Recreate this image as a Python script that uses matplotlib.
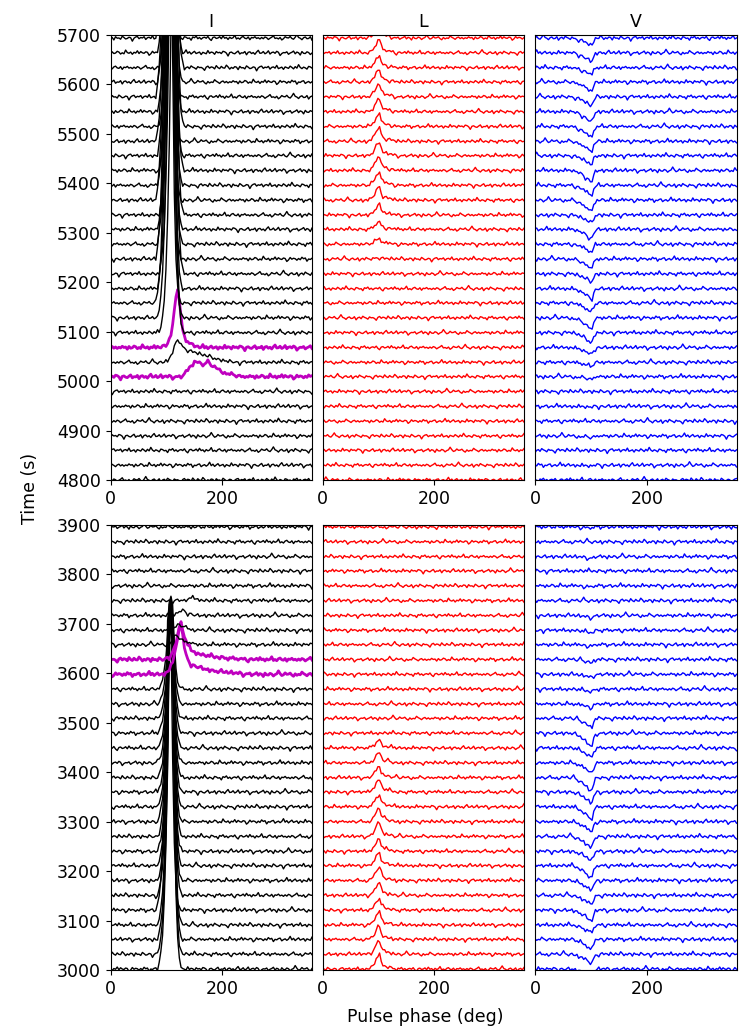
import numpy as np
import matplotlib.pyplot as plt

# ----------------------------
# Phase grid (deg) and sub-integration start times (s)
# ----------------------------
phase = np.arange(0, 361, 3)

top_times = [4800, 4830, 4860, 4889, 4919, 4949, 4979, 5009, 5038, 5068, 5098,
             5128, 5158, 5187, 5217, 5247, 5277, 5307, 5336, 5366, 5396, 5426,
             5456, 5485, 5515, 5545, 5575, 5605, 5634, 5664, 5694]
bottom_times = [3002, 3032, 3062, 3091, 3121, 3151, 3181, 3211, 3240, 3270, 3300,
                3330, 3360, 3389, 3419, 3449, 3479, 3509, 3538, 3568, 3598, 3628,
                3658, 3687, 3717, 3747, 3777, 3807, 3836, 3866, 3896]

# baseline wiggle (unit scale)
noise = [0.2, -0.3, 0.4, 0.1, -0.6, -0.1, 0.3, 0.9, -0.2, 0.0,
         -0.4, 0.2, -0.8, -0.3, 0.5, 0.1, 0.0, 0.6, -0.2, -0.5,
         0.3, 1.4, 0.2, -0.1, -0.7, 0.1, 0.4, -0.3, -0.2, 0.5,
         -0.9, 0.0, 0.3, -0.4, 0.7, 0.2, -0.1, -0.6, 0.4, 0.0,
         0.1, -0.3, -1.1, 0.2, 0.6, -0.2, 0.3, 0.1, -0.5, 0.8,
         0.0, -0.4, 0.5, -0.1, -0.2, 1.0, 0.3, -0.6, 0.1, -0.3,
         0.4, 0.2, -0.8, 0.5, -0.1, 0.0, -0.5, 0.7, 0.2, -0.4,
         -0.2, 0.3, 0.1, -1.3, -0.1, 0.4, 0.6, -0.3, 0.2, 0.0,
         0.5, -0.6, 0.1, 0.3, -0.2, 0.9, -0.4, -0.1, 0.2, -0.7,
         0.3, 0.0, -0.3, 0.6, 0.1, -0.5, 0.4, -0.2, 1.2, 0.1,
         -0.4, 0.2, -0.1, -0.6, 0.5, 0.3, -0.2, 0.0, -0.9, 0.4,
         0.1, 0.7, -0.3, 0.2, -0.5, 0.1, 0.3, -0.1, 0.6, -0.4,
         -1.0, 0.2, 0.4, -0.2, 0.0, 0.5, -0.3, 0.8, -0.1, 0.2,
         -0.6, 0.3, -0.2, 0.1, 1.1, -0.4, 0.0, -0.5, 0.3, 0.6,
         -0.1, -0.3, 0.4, -0.7, 0.2, 0.0, 0.5, -0.2, 0.1, -0.4]

# ----------------------------
# Pulse shapes (unit height), given from a start phase in 3 deg steps
# ----------------------------
i_shape_start = 87
i_shape = [0.02, 0.05, 0.1, 0.2, 0.35, 0.58, 0.95, 1.0, 0.92, 0.5, 0.22, 0.09, 0.03, 0.01]
l_shape_start = 84
l_shape = [0.05, 0.12, 0.25, 0.45, 0.72, 0.95, 1.0, 0.55, 0.3, 0.22, 0.18, 0.14, 0.12, 0.1, 0.06, 0.03]
v_shape_start = 69
v_shape = [-0.05, -0.1, -0.15, -0.22, -0.3, -0.38, -0.48, -0.6, -0.72, -0.85, -1.0, -0.95, -0.45, -0.12, -0.03]

# ----------------------------
# I amplitudes (s) and per-trace peak offsets (deg)
# ----------------------------
top_on_first = 10
top_i_amp = [650, 900, 1000, 1100, 950, 1200, 1050, 1150, 1000, 1250, 1100,
             950, 1200, 1050, 1150, 1000, 1250, 1100, 1000, 1200, 1050]
top_i_shift = [3, 0, -3, 0, 3, -3, 0, 0, 3, -3, 0, 3, 0, -3, 3, 0, -3, 0, 3, 0, -3]
bottom_on_last = 19
bottom_i_peak = [3700, 3720, 3735, 3745, 3740, 3730, 3750, 3725, 3715, 3740,
                 3745, 3735, 3720, 3745, 3730, 3710, 3740, 3725, 3735, 3755]
bottom_i_shift = [0, 0, 0, 0, -3, 0, 0, 0, 0, 0, 0, 0, 0, 0, 0, 0, 0, 0, 0, 0]

# transition profiles in I (s above baseline)
top_k7_start = 129      # magenta
top_k7 = [2, 5, 9, 14, 18, 22, 26, 29, 31, 30, 28, 26, 25, 26, 27, 27, 26, 24, 21, 19,
          17, 15, 13, 11, 10, 8, 7, 6, 5, 4, 3, 3, 2, 2, 1, 1]
top_k8_start = 96
top_k8 = [1, 3, 5, 8, 13, 20, 30, 40, 46, 42, 36, 32, 29, 27, 25, 23, 22, 21, 20, 19,
          18, 17, 16, 15, 14, 13, 12, 11, 10, 9, 8, 7, 6, 5, 5, 4, 3, 3, 2, 2, 1, 1, 1]
top_k9_start = 93       # magenta
top_k9 = [2, 4, 7, 10, 15, 25, 45, 75, 105, 116, 95, 60, 35, 22, 16, 12, 9, 7, 5, 4, 3, 2, 1]

bottom_k20_start = 96   # magenta
bottom_k20 = [1, 3, 6, 10, 16, 25, 38, 55, 75, 92, 97, 80, 55, 38, 29, 24, 21, 19, 17, 16,
              15, 14, 13, 12, 11, 10, 9, 9, 8, 7, 7, 6, 6, 5, 5, 5, 4, 4, 4, 3, 3, 3,
              2, 2, 2, 2, 1, 1, 1, 1, 1, 1]
bottom_k21_start = 96   # magenta
bottom_k21 = [1, 2, 4, 6, 9, 14, 22, 34, 50, 66, 74, 62, 45, 37, 30, 25, 20, 17, 15, 13,
              12, 11, 10, 9, 8, 8, 7, 7, 6, 6, 5, 5, 5, 4, 4, 4, 3, 3, 3, 2, 2, 2, 2,
              1, 1, 1, 1, 1]
bottom_k22_start = 105
bottom_k22 = [2, 5, 9, 14, 18, 17, 14, 11, 9, 7, 6, 5, 4, 3, 2, 2, 1, 1]
bottom_k23_start = 108
bottom_k23 = [1, 3, 5, 8, 11, 12, 10, 8, 6, 5, 4, 3, 2, 2, 1, 1]
bottom_k24_start = 111
bottom_k24 = [1, 2, 3, 5, 7, 9, 10, 8, 6, 5, 4, 3, 2, 1]
bottom_k25_start = 135
bottom_k25 = [1, 2, 4, 6, 6, 5, 4, 3, 2, 1]

# ----------------------------
# L and V amplitudes per trace (s)
# ----------------------------
top_l_amp = [0, 0, 0, 0, 0, 0, 0, 0, 0, 0, 0, 0, 0, 0, 0, 3,
             11, 15, 20, 27, 26, 28, 26, 28, 24, 25, 25, 24, 22, 26, 24]
bottom_l_amp = [27, 27, 24, 26, 22, 25, 26, 25, 24, 28, 26, 24, 25, 22, 20, 16,
                0, 0, 0, 0, 0, 0, 0, 0, 0, 0, 0, 0, 0, 0, 0]
top_v_amp = [0, 2, 0, 3, 0, 2, 0, 5, 8, 14, 20, 22, 18, 20, 16, 18,
             16, 18, 16, 22, 20, 22, 18, 20, 22, 20, 18, 18, 14, 17, 15]
bottom_v_amp = [16, 18, 20, 15, 22, 18, 20, 24, 18, 22, 20, 24, 22, 26, 20, 18,
                27, 17, 7, 5, 6, 6, 3, 5, 4, 0, 2, 0, 3, 0, 2]


# ----------------------------
# Helpers
# ----------------------------
def wiggle(k, shift, scale):
    n = len(noise)
    start = (k * 37 + shift) % n
    idx = (start + np.arange(len(phase))) % n
    w = np.array(noise)[idx]
    if (k + shift) % 2:
        w = w[::-1]
    return scale * w


def add_shape(y, start, shape, amp=1.0):
    i0 = int(start // 3)
    y[i0:i0 + len(shape)] += amp * np.array(shape, dtype=float)


extras_top = {7: (top_k7_start, top_k7, "m"),
              8: (top_k8_start, top_k8, "k"),
              9: (top_k9_start, top_k9, "m")}
extras_bottom = {20: (bottom_k20_start, bottom_k20, "m"),
                 21: (bottom_k21_start, bottom_k21, "m"),
                 22: (bottom_k22_start, bottom_k22, "k"),
                 23: (bottom_k23_start, bottom_k23, "k"),
                 24: (bottom_k24_start, bottom_k24, "k"),
                 25: (bottom_k25_start, bottom_k25, "k")}

# ----------------------------
# Figure
# ----------------------------
fig = plt.figure(figsize=(7.5, 10.29), dpi=100)
lefts = [110.5 / 750, 322.5 / 750, 535 / 750]
width = 201.5 / 750
rows = [(1 - 480 / 1029, 445 / 1029), (1 - 970 / 1029, 445 / 1029)]
fs = 12.5

for r, (bot, h) in enumerate(rows):
    times = top_times if r == 0 else bottom_times
    for c in range(3):
        ax = fig.add_axes([lefts[c], bot, width, h])
        for k, t in enumerate(times):
            color = ["k", "r", "b"][c]
            lw = 1.0
            y = wiggle(k, 11 * r + 53 * c, [5.0, 4.5, 5.0][c])
            if c == 0:
                if r == 0:
                    if k >= top_on_first:
                        j = k - top_on_first
                        add_shape(y, i_shape_start + top_i_shift[j], i_shape, top_i_amp[j])
                    if k in extras_top:
                        s0, vals, color = extras_top[k]
                        add_shape(y, s0, vals)
                else:
                    if k <= bottom_on_last:
                        add_shape(y, i_shape_start + bottom_i_shift[k], i_shape,
                                  bottom_i_peak[k] - t)
                    if k in extras_bottom:
                        s0, vals, color = extras_bottom[k]
                        add_shape(y, s0, vals)
                if color == "m":
                    lw = 2.0
            elif c == 1:
                amp = top_l_amp[k] if r == 0 else bottom_l_amp[k]
                add_shape(y, l_shape_start, l_shape, amp)
            else:
                amp = top_v_amp[k] if r == 0 else bottom_v_amp[k]
                add_shape(y, v_shape_start, v_shape, amp)
            ax.plot(phase, t + y, color=color, lw=lw)

        ax.set_xlim(0, 360)
        if r == 0:
            ax.set_ylim(4800, 5700)
            ax.set_yticks(np.arange(4800, 5701, 100))
            ax.set_title(["I", "L", "V"][c], fontsize=fs)
        else:
            ax.set_ylim(3000, 3900)
            ax.set_yticks(np.arange(3000, 3901, 100))
        ax.set_xticks([0, 200])
        ax.tick_params(labelsize=fs)
        if c > 0:
            ax.set_yticks([])

fig.text(0.04, 0.525, "Time (s)", rotation=90, ha="center", va="center", fontsize=fs)
fig.text(0.5667, 0.012, "Pulse phase (deg)", ha="center", va="center", fontsize=fs)

fig.savefig("out.png", dpi=100)
